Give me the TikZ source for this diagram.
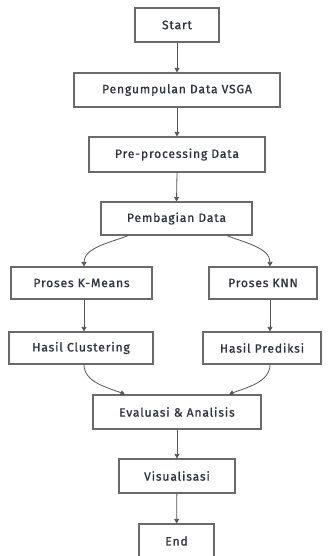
\documentclass[tikz,border=0pt]{standalone}
\usepackage{fontspec}
\newfontfamily\lblfont{Fira Sans}[LetterSpace=7,FakeBold=1]
\usetikzlibrary{arrows.meta}
\definecolor{txt}{HTML}{2E3440}
\definecolor{bord}{HTML}{6A6A6A}
\definecolor{conn}{HTML}{555555}
\tikzset{
  box/.style={draw=bord, line width=1.2pt, fill=white, rectangle, inner sep=0pt,
    font=\lblfont\fontsize{12.1}{14}\selectfont, text=txt, align=center},
  flow/.style={draw=conn, line width=0.8pt, -{Triangle[length=4.5pt,width=5pt]}}
}
\begin{document}
\begin{tikzpicture}[x=1pt,y=-1pt]
\useasboundingbox (0,0) rectangle (335,556);
\node[box, minimum width=84pt, minimum height=34pt] (start) at (177,25) {Start};
\node[box, minimum width=206pt, minimum height=34pt] (peng) at (177,90) {Pengumpulan Data VSGA};
\node[box, minimum width=176pt, minimum height=35pt] (pre) at (177,154.5) {Pre-processing Data};
\node[box, minimum width=151pt, minimum height=33pt] (pemb) at (176.5,218.5) {Pembagian Data};
\node[box, minimum width=141pt, minimum height=32pt] (km) at (81.5,283) {Proses K-Means};
\node[box, minimum width=108pt, minimum height=32pt] (knn) at (263,283) {Proses KNN};
\node[box, minimum width=144pt, minimum height=32pt] (hc) at (81,348) {Hasil Clustering};
\node[box, minimum width=118pt, minimum height=32pt] (hp) at (262,348) {Hasil Prediksi};
\node[box, minimum width=168pt, minimum height=34pt] (eva) at (177,412) {Evaluasi \& Analisis};
\node[box, minimum width=116pt, minimum height=34pt] (vis) at (177,476) {Visualisasi};
\node[box, minimum width=75pt, minimum height=34pt] (end) at (176.5,541) {End};

\draw[flow] (start) -- (peng);
\draw[flow] (peng) -- (pre);
\draw[flow] (pre.south) -- (pemb.north);
\draw[flow] ([xshift=-48.5pt]pemb.south) to[out=-158,in=90,looseness=0.9] ([xshift=2.5pt]km.north);
\draw[flow] ([xshift=50.5pt]pemb.south) to[out=-22,in=90,looseness=0.9] ([xshift=7pt]knn.north);
\draw[flow] ([xshift=2.5pt]km.south) -- ([xshift=3pt]hc.north);
\draw[flow] ([xshift=7pt]knn.south) -- ([xshift=8pt]hp.north);
\draw[flow] ([xshift=3pt]hc.south) to[out=-90,in=158,looseness=0.9] ([xshift=-52pt]eva.north);
\draw[flow] ([xshift=8pt]hp.south) to[out=-90,in=22,looseness=0.9] ([xshift=52pt]eva.north);
\draw[flow] (eva) -- (vis);
\draw[flow] (vis) -- (end);
\end{tikzpicture}
\end{document}
